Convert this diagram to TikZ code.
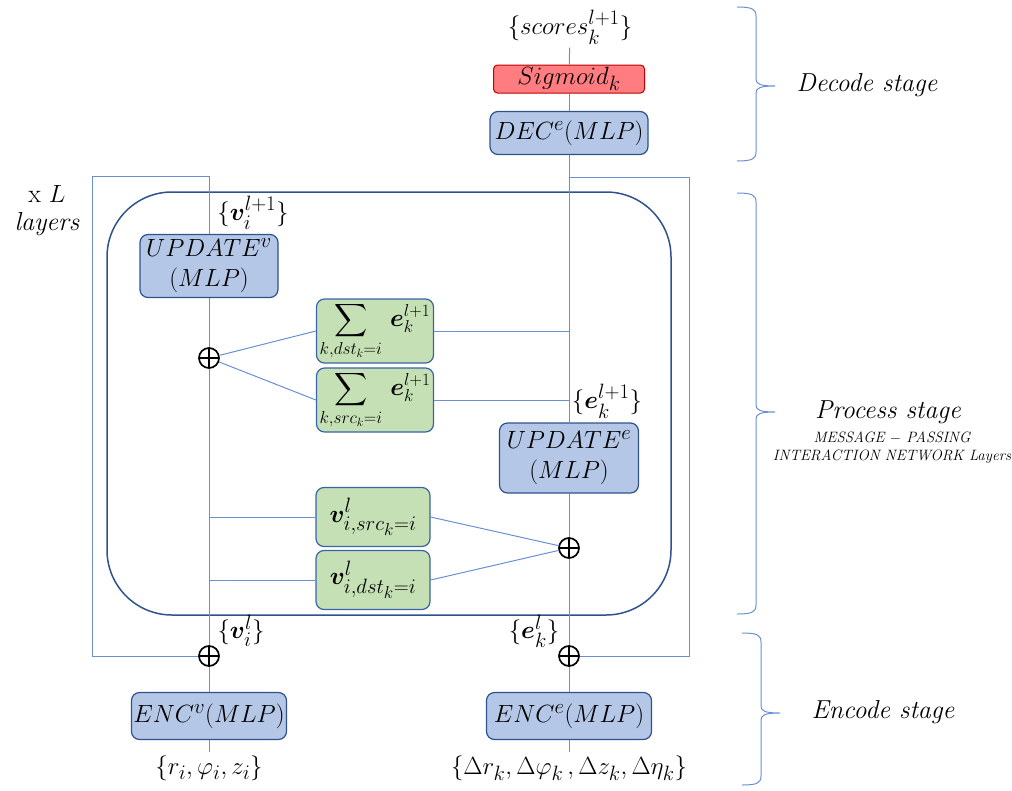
\documentclass[tikz,border=0pt]{standalone}
\usepackage{amssymb, amsmath, bm}
\usepackage{tikz}
\definecolor{boxblue}{RGB}{180, 199, 231}
\definecolor{edgeblue}{RGB}{47, 82, 143}
\definecolor{boxgreen}{RGB}{197, 224, 180}
\definecolor{edgegreen}{RGB}{58, 100, 168}
\definecolor{sigred}{RGB}{255, 124, 128}
\definecolor{edgered}{RGB}{192, 0, 0}
\definecolor{wireblue}{RGB}{106, 143, 212}

\begin{document}
\begin{tikzpicture}[x=1pt, y=-1pt,
  every node/.style={font=\fontsize{24.88}{30}\selectfont},
  mlp/.style={draw=edgeblue, fill=boxblue, line width=1.2, rounded corners=8, inner sep=1, align=center},
  agg/.style={draw=edgegreen, fill=boxgreen, line width=1.2, rounded corners=8, inner sep=1},
  act/.style={draw=edgered, fill=sigred, line width=1, rounded corners=4, inner sep=0},
  wire/.style={draw=wireblue, line width=1},
  oplus/.style={circle, draw, line width=1.7, minimum size=20, inner sep=0,
    path picture={\draw[line width=1.7] (path picture bounding box.north) -- (path picture bounding box.south)
                                        (path picture bounding box.west) -- (path picture bounding box.east);}},
  stagetext/.style={font=\fontsize{26}{30}\selectfont\itshape, align=center}]

  \useasboundingbox (0, 0) rectangle (1012, 790);

  % process block
  \draw[edgeblue, line width=1.5, rounded corners=65] (107, 192) rectangle (671, 615);

  % decode column
  \node[] (scores) at (570, 27) {$\{scores_k^{l+1}\}$};
  \node[act, minimum width=151, minimum height=28] (sig) at (569, 79) {$Sigmoid_k$};
  \node[mlp, minimum width=158, minimum height=43] (dec) at (569, 133) {$DEC^e(MLP)$};

  % node side
  \node[] (vnext) at (253, 213) {$\{\bm{v}_i^{l+1}\}$};
  \node[mlp, minimum width=138, minimum height=63] (upv) at (209, 266) {$UPDATE^v$\\$(MLP)$};
  \node[oplus] (pv1) at (209, 358) {};
  \node[agg, minimum width=117, minimum height=64, inner sep=0, font=\fontsize{23}{26}\selectfont] (sdst) at (375, 331) {$\displaystyle\sum_{k,dst_k=i}\,\bm{e}_k^{l+1}$};
  \node[agg, minimum width=117, minimum height=64, inner sep=0, font=\fontsize{23}{26}\selectfont] (ssrc) at (375, 400) {$\displaystyle\sum_{k,src_k=i}\,\bm{e}_k^{l+1}$};
  \node[agg, minimum width=114, minimum height=59] (vsrc) at (373, 517) {$\bm{v}^l_{i,src_k=i}$};
  \node[agg, minimum width=114, minimum height=59] (vdst) at (373, 580) {$\bm{v}^l_{i,dst_k=i}$};
  \node[] (vcur) at (241, 631) {$\{\bm{v}_i^{l}\}$};
  \node[oplus] (pv0) at (209, 656) {};
  \node[mlp, minimum width=155, minimum height=47] (encv) at (209, 716) {$ENC^v(MLP)$};
  \node[] (inv) at (209, 768) {$\{r_i,\varphi_i,z_i\}$};

  % edge side
  \node[] (enext) at (607, 401) {$\{\bm{e}_k^{l+1}\}$};
  \node[mlp, minimum width=139, minimum height=70] (upe) at (569, 458) {$UPDATE^e$\\$(MLP)$};
  \node[oplus] (pe1) at (569, 548) {};
  \node[] (ecur) at (534, 631) {$\{\bm{e}_k^{l}\}$};
  \node[oplus] (pe0) at (569, 656) {};
  \node[mlp, minimum width=165, minimum height=47] (ence) at (569, 716) {$ENC^e(MLP)$};
  \node[] (ine) at (569, 768) {$\{\Delta r_k,\Delta\varphi_k\,,\Delta z_k,\Delta\eta_k\}$};

  \coordinate (vtop) at (209, 176);
  \coordinate (lbend1) at (92, 176);
  \coordinate (lbend2) at (92, 656);
  \coordinate (etop) at (569, 177);
  \coordinate (rbend1) at (689, 177);
  \coordinate (rbend2) at (689, 656);

  \draw[wire] (scores) -- (sig);
  \draw[wire] (sig) -- (dec);
  \draw[wire] (dec) -- (upe);
  \draw[wire] (upe) -- (pe1);
  \draw[wire] (pe1) -- (pe0);
  \draw[wire] (pe0) -- (ence);
  \draw[wire] (ence) -- (ine);
  \draw[wire] (etop) -- (rbend1) -- (rbend2) -- (pe0);

  \draw[wire] (upv.north) -- (vtop) -- (lbend1) -- (lbend2) -- (pv0);
  \draw[wire] (upv) -- (pv1);
  \draw[wire] (pv1) -- (pv0);
  \draw[wire] (pv0) -- (encv);
  \draw[wire] (encv) -- (inv);

  \draw[wire] (pv1) -- (sdst.west);
  \draw[wire] (pv1) -- (ssrc.west);
  \draw[wire] (sdst.east) -- (sdst.east -| etop);
  \draw[wire] (ssrc.east) -- (ssrc.east -| etop);
  \draw[wire] (vsrc.west -| vtop) -- (vsrc.west);
  \draw[wire] (vdst.west -| vtop) -- (vdst.west);
  \draw[wire] (vsrc.east) -- (pe1);
  \draw[wire] (vdst.east) -- (pe1);

  % stage braces
  \foreach \xb/\ya/\ym/\yb in {756/7/86/161, 756/193/412/614, 761/633/713/785} {
    \draw[wire] (\xb - 19, \ya) .. controls (\xb - 4, \ya) and (\xb, \ya + 2) .. (\xb, \ya + 9)
      -- (\xb, \ym - 7) .. controls (\xb, \ym - 2) and (\xb + 4, \ym) .. (\xb + 19, \ym)
      .. controls (\xb + 4, \ym) and (\xb, \ym + 2) .. (\xb, \ym + 7)
      -- (\xb, \yb - 9) .. controls (\xb, \yb - 2) and (\xb - 4, \yb) .. (\xb - 19, \yb);
  }

  \node[stagetext] (decode) at (867, 85) {Decode stage};
  \node[stagetext] (process) at (888, 412) {Process stage};
  \node[stagetext, font=\fontsize{15}{18}\selectfont\itshape] (mpnn) at (892, 448) {MESSAGE $-$ PASSING\\INTERACTION NETWORK Layers};
  \node[stagetext] (encode) at (883, 712) {Encode stage};
  \node[align=center, font=\fontsize{26}{28}\selectfont] (layers) at (47, 211) {x $L$\\\textit{layers}};

\end{tikzpicture}
\end{document}
